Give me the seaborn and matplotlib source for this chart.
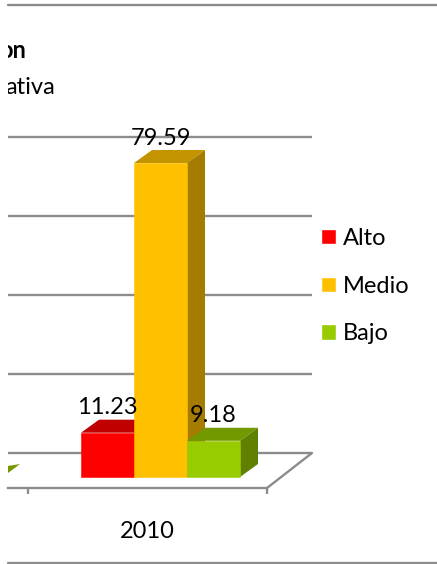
import matplotlib
matplotlib.use("Agg")
import matplotlib.pyplot as plt
import pandas as pd
import seaborn as sns
from matplotlib.patches import Polygon, Rectangle
from matplotlib.transforms import IdentityTransform

years = ["2010"]
levels = ["Alto", "Medio", "Bajo"]
values = [11.23, 79.59, 9.18]
grid_values = [0, 20, 40, 60, 80]
front_colors = ["#FF0000", "#FFC000", "#99CC00"]
top_colors = ["#C00000", "#C49300", "#739900"]
side_colors = ["#990000", "#A67C00", "#608000"]
title_text = "on"
subtitle_text = "ativa"

W, H = 437, 564
X0, Y0, XS, YS = 160.5, 477.0, 239.0, 3.945


def dx(p):
    return (p - X0) / XS


def dy(p):
    return (Y0 - p) / YS


sns.set_theme(style="white")
plt.rcParams["font.family"] = ["Lato", "DejaVu Sans"]
LINE = "#8C8C8C"
LW = 1.7
FS = 17.0

df = pd.DataFrame({"year": years * 3, "nivel": levels, "value": values})
fig = plt.figure(figsize=(W / 100, H / 100), dpi=100, facecolor="white")
ax = fig.add_axes([0, 0, 1, 1])
ax.patch.set_visible(False)
sns.barplot(data=df, x="year", y="value", hue="nivel", hue_order=levels,
            palette=front_colors, saturation=1, width=159 / 239, dodge=True,
            ax=ax, legend=True, errorbar=None)
ax.set_xlim(dx(0), dx(W))
ax.set_ylim(dy(H), dy(0))
ax.set(xlabel="", ylabel="")

# wall gridlines + floor back edge
wall_dx, wall_dy = 45 / XS, 24 / YS
for v in grid_values:
    ax.hlines(v + wall_dy, dx(8), dx(267) + wall_dx, colors=LINE, lw=LW, zorder=1)

# axis (floor front edge) with real ticks
front_y = dy(488)
for s in ["top", "right", "left"]:
    ax.spines[s].set_visible(False)
sp = ax.spines["bottom"]
sp.set_visible(True)
sp.set_position(("data", front_y))
sp.set_bounds(dx(8), dx(267))
sp.set_color(LINE)
sp.set_linewidth(LW)
ax.yaxis.set_visible(False)
ax.set_xticks([dx(28), dx(267)], ["", ""])
ax.set_xticks([dx(147)], years, minor=True)
ax.tick_params(axis="x", which="major", length=4.5, width=LW, color=LINE, bottom=True)
ax.tick_params(axis="x", which="minor", length=0, pad=24, labelsize=FS, labelcolor="black")
ax.plot([dx(267), dx(267) + wall_dx], [front_y, wall_dy], color=LINE, lw=LW, zorder=1)

# 3-D extrusion of each bar, derived from the bar itself
ext_x, ext_y = 18 / XS, 13 / YS
for i, cont in enumerate(ax.containers):
    bar = cont[0]
    x, w, h = bar.get_x(), bar.get_width(), bar.get_height()
    z = 3 + i
    bar.set_zorder(z + 0.2)
    bar.set_edgecolor(front_colors[i])
    bar.set_linewidth(0.4)
    ax.add_patch(Polygon([(x, h), (x + w, h), (x + w + ext_x, h + ext_y), (x + ext_x, h + ext_y)],
                         closed=True, fc=top_colors[i], ec="none", zorder=z))
    ax.add_patch(Polygon([(x + w, 0), (x + w + ext_x, ext_y), (x + w + ext_x, h + ext_y), (x + w, h)],
                         closed=True, fc=side_colors[i], ec="none", zorder=z))
    ax.annotate(f"{values[i]:.2f}", (x + w / 2, h), xytext=(0, 18), textcoords="offset points",
                ha="center", va="center", fontsize=FS, color="black", zorder=10)

# clipped top face of a bar cut off at the left edge
ax.add_patch(Polygon([(dx(8), dy(473)), (dx(8), dy(466)), (dx(20), dy(464))],
                     closed=True, fc="#739900", ec="none", zorder=2))

# legend
h, l = ax.get_legend_handles_labels()
leg = ax.legend(h, l, loc="upper left", bbox_to_anchor=(321 / W, 1 - 228 / H), frameon=False,
                fontsize=FS, handlelength=0.63, handleheight=0.63, handletextpad=0.3,
                labelspacing=1.13, borderpad=0, borderaxespad=0)
for t in leg.get_texts():
    t.set_color("black")

# titles, cut off at the left edge of the picture
t1 = ax.text(dx(26), dy(51), title_text, ha="right", va="center", fontsize=FS, fontweight="bold", color="black")
t2 = ax.text(dx(55), dy(87), subtitle_text, ha="right", va="center", fontsize=FS, color="black")
for t in (t1, t2):
    t.set_clip_on(True)
    t.set_clip_path(Rectangle((8, 0), W - 8, H, transform=IdentityTransform()))

# top and bottom rules
fig.add_artist(plt.Line2D([8 / W, 1], [1 - 5 / H] * 2, color=LINE, lw=LW))
fig.add_artist(plt.Line2D([8 / W, 1], [1 - 563 / H] * 2, color=LINE, lw=LW))

fig.savefig("out.png", dpi=100, facecolor="white")
